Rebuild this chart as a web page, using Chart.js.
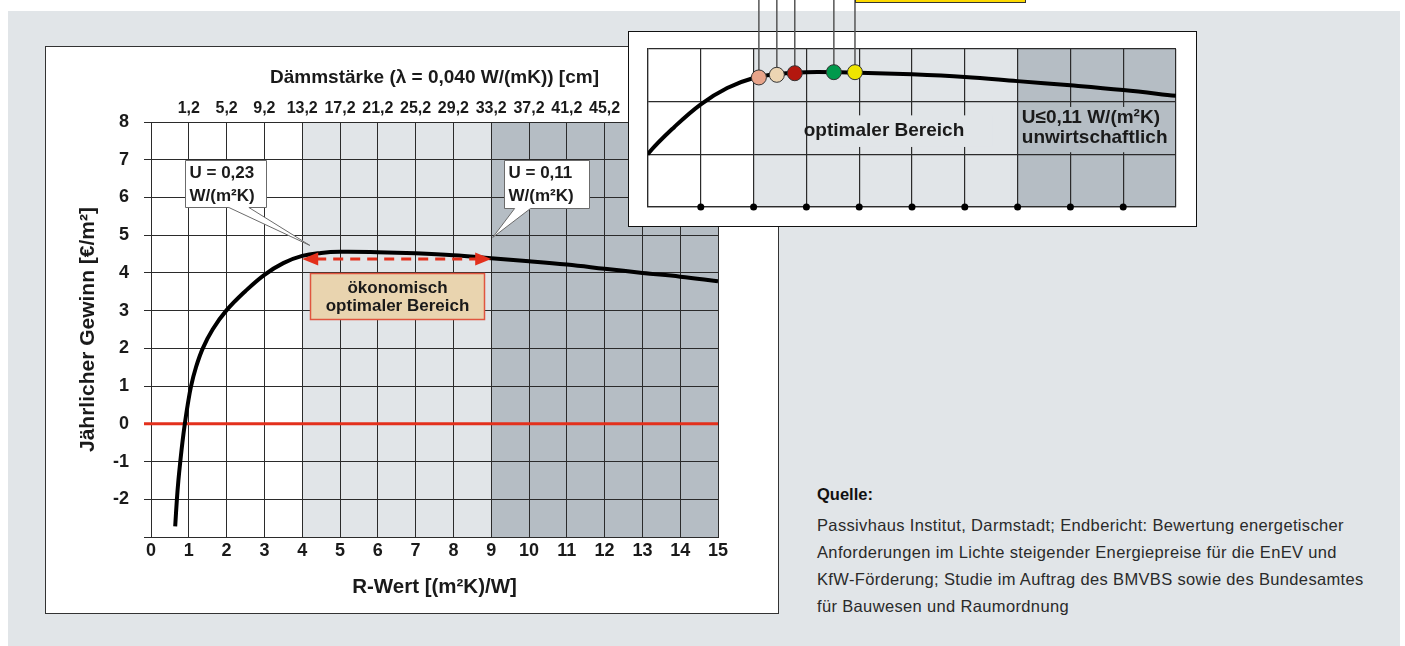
<!DOCTYPE html>
<html>
<head>
<meta charset="utf-8">
<script src="https://cdn.jsdelivr.net/npm/chart.js@4"></script>
<style>
	body { margin: 0; width: 1405px; height: 646px; position: relative; overflow: hidden; background: #fff; }
	#bg { position: absolute; left: 8px; top: 11px; width: 1392px; height: 635px; background: #e1e5e8; }
	#mainPanel { position: absolute; left: 45px; top: 46px; width: 732px; height: 566px; border: 1px solid #333; background: #fff; }
	#mainPanel canvas, #insetWrap canvas { display: block; }
	#insetWrap { position: absolute; left: 628px; top: 0; width: 570px; height: 227px; }
	#source { position: absolute; left: 817px; top: 481px; font-family: 'Liberation Sans', Arial, sans-serif; font-size: 16.5px; letter-spacing: 0.35px; line-height: 27px; color: #2a2a2a; }
	#source b { display: block; color: #111; letter-spacing: 0; margin-bottom: 4px; }
</style>
</head>
<body>
<div id="bg"></div>
<div id="mainPanel"><canvas id="mainChart" width="732" height="566"></canvas></div>
<div id="insetWrap"><canvas id="insetChart" width="570" height="227"></canvas></div>
<div id="source">
	<b>Quelle:</b>
	Passivhaus Institut, Darmstadt; Endbericht: Bewertung energetischer<br>
	Anforderungen im Lichte steigender Energiepreise für die EnEV und<br>
	KfW-Förderung; Studie im Auftrag des BMVBS sowie des Bundesamtes<br>
	für Bauwesen und Raumordnung
</div>

<script>
// R-Wert [(m²K)/W] and annual gain [€/m²]
const rWert = [0.64, 0.685, 0.725, 0.775, 0.83, 0.895, 0.97, 1.06, 1.19, 1.37, 1.63, 1.99, 2.5, 3.0, 3.5, 4.0, 4.5, 5, 6, 7, 8, 9, 10, 11, 12, 13, 14, 15];
const gewinn = [-2.72, -2.0, -1.5, -1.0, -0.5, 0.0, 0.5, 1.0, 1.5, 2.0, 2.5, 3.0, 3.52, 3.95, 4.26, 4.45, 4.53, 4.56, 4.55, 4.52, 4.47, 4.39, 4.31, 4.22, 4.11, 4.0, 3.9, 3.78];

// upper axis: insulation thickness in cm at R = 1..12
const topTickR = [1, 2, 3, 4, 5, 6, 7, 8, 9, 10, 11, 12];
const topTickLabels = ['1,2', '5,2', '9,2', '13,2', '17,2', '21,2', '25,2', '29,2', '33,2', '37,2', '41,2', '45,2'];

// zone borders: optimal range 4..9, uneconomic 9..15
const zoneEdges = [4, 9, 15];

// coloured markers in the small inset
const markerR = [4.1, 4.44, 4.78, 5.52, 5.92];
const markerGewinn = [4.46, 4.51, 4.54, 4.56, 4.56];
const insetDotR = [3, 4, 5, 6, 7, 8, 9, 10, 11];

const FONT = "'Liberation Sans', Arial, Helvetica, sans-serif";
const textColor = '#1a1a1a';
const gridColor = '#2b2b2b';
const lightZone = '#e1e5e8';
const darkZone = '#b5bdc4';
const red = '#e3301c';
const markerColors = ['#e8a48a', '#ecd5b3', '#b3170e', '#00994c', '#efe500'];

function bold(size) {
	return { family: FONT, size: size, weight: 'bold' };
}

function drawZones(chart, edges) {
	const { ctx, chartArea: a, scales: { x } } = chart;
	const colors = [lightZone, darkZone];
	ctx.save();
	for (let i = 0; i < edges.length - 1; i++) {
		const x0 = x.getPixelForValue(edges[i]);
		const x1 = x.getPixelForValue(Math.min(edges[i + 1], x.max));
		ctx.fillStyle = colors[i];
		ctx.fillRect(x0, a.top, x1 - x0, a.bottom - a.top);
	}
	ctx.restore();
}

function drawCallout(ctx, x, y, c) {
	const l = Math.round(x.getPixelForValue(c.box[0])) + 0.5;
	const t = Math.round(y.getPixelForValue(c.box[1])) + 0.5;
	const r = Math.round(x.getPixelForValue(c.box[2])) + 0.5;
	const b = Math.round(y.getPixelForValue(c.box[3])) + 0.5;
	const b0 = x.getPixelForValue(c.base[0]);
	const b1 = x.getPixelForValue(c.base[1]);
	const tx = x.getPixelForValue(c.tip[0]);
	const ty = y.getPixelForValue(c.tip[1]);

	ctx.beginPath();
	ctx.moveTo(l, t);
	ctx.lineTo(r, t);
	ctx.lineTo(r, b);
	ctx.lineTo(b1, b);
	ctx.lineTo(tx, ty);
	ctx.lineTo(b0, b);
	ctx.lineTo(l, b);
	ctx.closePath();
	ctx.fillStyle = '#fff';
	ctx.fill();
	ctx.strokeStyle = '#6b6b6b';
	ctx.lineWidth = 1;
	ctx.stroke();

	ctx.fillStyle = textColor;
	ctx.font = 'bold 17px ' + FONT;
	ctx.textAlign = 'left';
	ctx.textBaseline = 'middle';
	ctx.fillText(c.lines[0], l + 4, t + 13);
	ctx.fillText(c.lines[1], l + 4, t + 36);
}

const mainDecor = {
	id: 'mainDecor',
	beforeDraw(chart) {
		drawZones(chart, zoneEdges);
	},
	beforeDatasetsDraw(chart) {
		// zero line across the plot, starting at the tick marks
		const { ctx, chartArea: a, scales: { y } } = chart;
		const y0 = y.getPixelForValue(0);
		ctx.save();
		ctx.strokeStyle = red;
		ctx.lineWidth = 3;
		ctx.beginPath();
		ctx.moveTo(a.left - 7, y0);
		ctx.lineTo(a.right, y0);
		ctx.stroke();
		ctx.restore();
	},
	afterDatasetsDraw(chart) {
		const { ctx, scales: { x, y } } = chart;
		ctx.save();

		// dashed double arrow over the optimal range
		const ay = y.getPixelForValue(4.37);
		const ax0 = x.getPixelForValue(zoneEdges[0]);
		const ax1 = x.getPixelForValue(zoneEdges[1]);
		ctx.strokeStyle = red;
		ctx.fillStyle = red;
		ctx.lineWidth = 3;
		ctx.setLineDash([10, 7]);
		ctx.beginPath();
		ctx.moveTo(ax0 + 14, ay);
		ctx.lineTo(ax1 - 14, ay);
		ctx.stroke();
		ctx.setLineDash([]);
		ctx.beginPath();
		ctx.moveTo(ax0, ay);
		ctx.lineTo(ax0 + 16, ay - 6.5);
		ctx.lineTo(ax0 + 16, ay + 6.5);
		ctx.closePath();
		ctx.moveTo(ax1, ay);
		ctx.lineTo(ax1 - 16, ay - 6.5);
		ctx.lineTo(ax1 - 16, ay + 6.5);
		ctx.closePath();
		ctx.fill();

		// label box under the arrow
		const bl = Math.round(x.getPixelForValue(4.2)) + 0.5;
		const bt = Math.round(y.getPixelForValue(4.0)) + 0.5;
		const br = Math.round(x.getPixelForValue(8.8)) + 0.5;
		const bb = Math.round(y.getPixelForValue(2.79)) + 0.5;
		ctx.fillStyle = '#e9d4af';
		ctx.fillRect(bl, bt, br - bl, bb - bt);
		ctx.strokeStyle = '#e0553f';
		ctx.lineWidth = 1.5;
		ctx.strokeRect(bl, bt, br - bl, bb - bt);
		ctx.fillStyle = textColor;
		ctx.font = 'bold 17px ' + FONT;
		ctx.textAlign = 'center';
		ctx.textBaseline = 'middle';
		ctx.fillText('ökonomisch', (bl + br) / 2, bt + 15);
		ctx.fillText('optimaler Bereich', (bl + br) / 2, bt + 33);

		// U-value callouts
		drawCallout(ctx, x, y, { lines: ['U = 0,23', 'W/(m²K)'], box: [0.9, 7.0, 3.05, 5.75], base: [2.06, 2.59], tip: [4.2, 4.73] });
		drawCallout(ctx, x, y, { lines: ['U = 0,11', 'W/(m²K)'], box: [9.33, 7.0, 11.58, 5.72], base: [9.62, 10.04], tip: [9.04, 4.94] });

		ctx.restore();
	}
};

const mainChart = new Chart(document.getElementById('mainChart'), {
	type: 'line',
	data: {
		datasets: [{
			data: rWert.map((r, i) => ({ x: r, y: gewinn[i] })),
			borderColor: '#000',
			borderWidth: 4,
			pointRadius: 0,
			tension: 0.4,
			fill: false,
		}],
	},
	options: {
		responsive: false,
		animation: false,
		devicePixelRatio: 1,
		layout: { padding: { left: 0, right: 60, top: 0, bottom: 0 } },
		plugins: { legend: { display: false }, tooltip: { enabled: false } },
		scales: {
			x: {
				type: 'linear',
				position: 'bottom',
				min: 0,
				max: 15,
				ticks: { stepSize: 1, autoSkip: false, maxRotation: 0, padding: 3, color: textColor, font: bold(18) },
				grid: { color: gridColor, lineWidth: 1, drawTicks: false },
				border: { color: gridColor },
				title: { display: true, text: 'R-Wert [(m²K)/W]', color: textColor, font: bold(20.5), padding: { top: 0, bottom: 13 } },
				afterFit: (s) => { s.height = 76; },
			},
			xTop: {
				type: 'linear',
				position: 'top',
				min: 0,
				max: 15,
				afterBuildTicks: (s) => { s.ticks = topTickR.map((v) => ({ value: v })); },
				ticks: {
					autoSkip: false,
					maxRotation: 0,
					padding: 4,
					color: textColor,
					font: bold(16),
					callback: (v) => topTickLabels[topTickR.indexOf(v)] || '',
				},
				grid: { display: false, drawTicks: false },
				border: { display: false },
				title: { display: true, text: 'Dämmstärke (λ = 0,040 W/(mK)) [cm]', color: textColor, font: bold(19), padding: { top: 19, bottom: 0 } },
				afterFit: (s) => { s.height = 75; },
			},
			y: {
				min: -3,
				max: 8,
				ticks: { stepSize: 1, padding: 15, color: textColor, font: bold(18), callback: (v) => (v === -3 ? '' : v) },
				grid: { color: gridColor, lineWidth: 1, tickLength: 7 },
				border: { color: gridColor },
				title: { display: true, text: 'Jährlicher Gewinn [€/m²]', color: textColor, font: bold(21), padding: { top: 30, bottom: 0 } },
				afterFit: (s) => { s.width = 105; },
			},
		},
	},
	plugins: [mainDecor],
});

const insetDecor = {
	id: 'insetDecor',
	beforeDraw(chart) {
		const { ctx, width } = chart;
		// white panel of the inset
		ctx.save();
		ctx.fillStyle = '#fff';
		ctx.fillRect(0, 31, width - 1, 196);
		ctx.strokeStyle = '#111';
		ctx.lineWidth = 1;
		ctx.strokeRect(0.5, 31.5, width - 2, 195);
		ctx.restore();
		drawZones(chart, zoneEdges);
	},
	beforeDatasetsDraw(chart) {
		const { ctx, scales: { x, y } } = chart;
		ctx.save();

		// text patches hide the grid behind the labels
		const patch = (x0, y0, x1, y1, color) => {
			const l = x.getPixelForValue(x0), t = y.getPixelForValue(y0);
			ctx.fillStyle = color;
			ctx.fillRect(l, t, x.getPixelForValue(x1) - l, y.getPixelForValue(y1) - t);
		};
		patch(5.34, 3.74, 8.52, 3.14, lightZone);
		patch(9.04, 3.9, 11.93, 3.04, darkZone);

		ctx.fillStyle = textColor;
		ctx.font = 'bold 19px ' + FONT;
		ctx.textBaseline = 'middle';
		ctx.textAlign = 'center';
		ctx.fillText('optimaler Bereich', x.getPixelForValue(6.47), y.getPixelForValue(3.44));
		ctx.textAlign = 'left';
		ctx.fillText('U≤0,11 W/(m²K)', x.getPixelForValue(9.08), y.getPixelForValue(3.69));
		ctx.fillText('unwirtschaftlich', x.getPixelForValue(9.08), y.getPixelForValue(3.31));

		// leader lines from each marker up and out of the picture
		ctx.strokeStyle = '#555';
		ctx.lineWidth = 1.5;
		markerR.forEach((r, i) => {
			const px = x.getPixelForValue(r);
			ctx.beginPath();
			ctx.moveTo(px, y.getPixelForValue(markerGewinn[i]));
			ctx.lineTo(px, 0);
			ctx.stroke();
		});
		ctx.restore();
	},
	afterDraw(chart) {
		// bottom edge of the legend box the last marker points to
		const { ctx, scales: { x } } = chart;
		const left = Math.round(x.getPixelForValue(markerR[markerR.length - 1])) + 0.5;
		ctx.save();
		ctx.fillStyle = '#fcd900';
		ctx.fillRect(left, -2, 170, 4.5);
		ctx.strokeStyle = '#333';
		ctx.lineWidth = 1;
		ctx.strokeRect(left, -2, 170, 4.5);
		ctx.restore();
	}
};

const insetChart = new Chart(document.getElementById('insetChart'), {
	type: 'line',
	data: {
		datasets: [
			{
				data: markerR.map((r, i) => ({ x: r, y: markerGewinn[i] })),
				showLine: false,
				pointRadius: 7.5,
				pointBackgroundColor: markerColors,
				pointBorderColor: '#333',
				pointBorderWidth: 1,
				order: 0,
			},
			{
				data: insetDotR.map((r) => ({ x: r, y: 2 })),
				showLine: false,
				pointRadius: 3.5,
				pointBackgroundColor: '#000',
				pointBorderWidth: 0,
				clip: false,
				order: 1,
			},
			{
				data: rWert.map((r, i) => ({ x: r, y: gewinn[i] })),
				borderColor: '#000',
				borderWidth: 4,
				pointRadius: 0,
				tension: 0.4,
				clip: 0,
				order: 2,
			},
		],
	},
	options: {
		responsive: false,
		animation: false,
		devicePixelRatio: 1,
		layout: { padding: { left: 20, right: 22, top: 49, bottom: 20 } },
		plugins: { legend: { display: false }, tooltip: { enabled: false } },
		scales: {
			x: {
				type: 'linear',
				min: 2,
				max: 12,
				ticks: { display: false, stepSize: 1 },
				grid: { color: gridColor, lineWidth: 1.2, drawTicks: false },
				border: { color: gridColor, width: 1.2 },
				afterFit: (s) => { s.height = 0; },
			},
			y: {
				min: 2,
				max: 5,
				ticks: { display: false, stepSize: 1 },
				grid: { color: gridColor, lineWidth: 1.2, drawTicks: false },
				border: { color: gridColor, width: 1.2 },
				afterFit: (s) => { s.width = 0; },
			},
		},
	},
	plugins: [insetDecor],
});
</script>
</body>
</html>
